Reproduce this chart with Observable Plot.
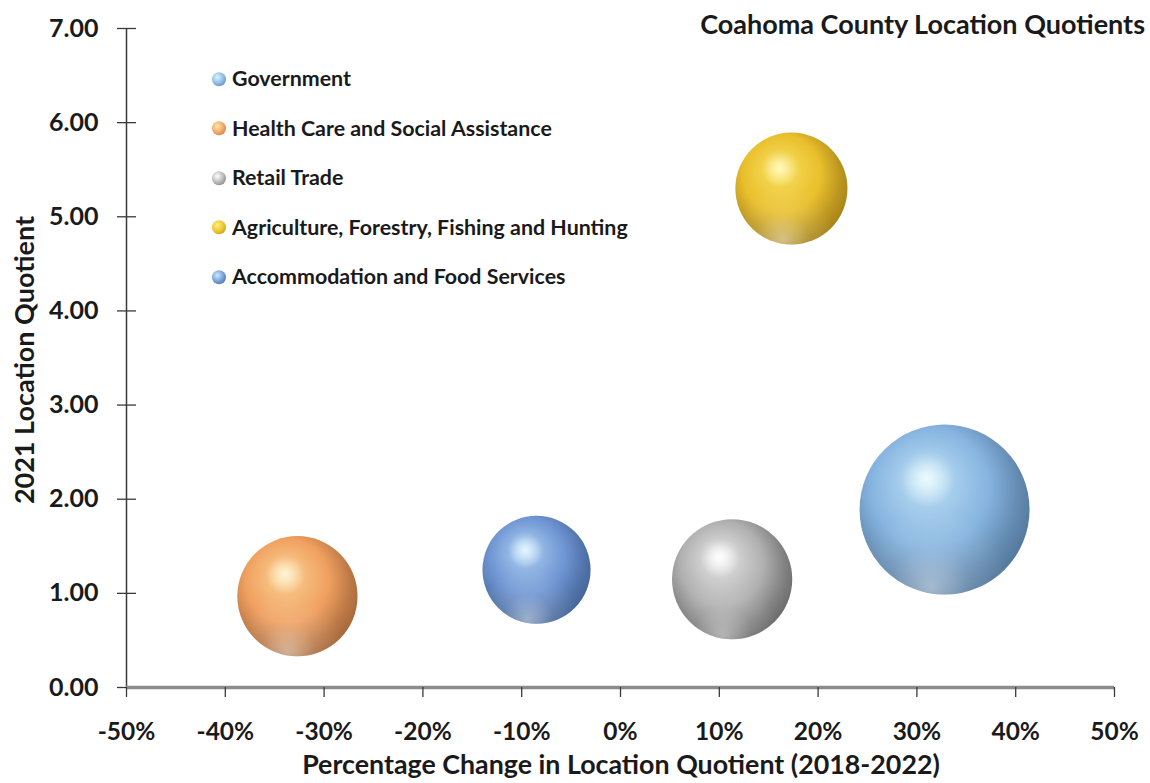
<!DOCTYPE html>
<html>
<head>
<meta charset="utf-8">
<script src="https://cdn.jsdelivr.net/npm/d3@7"></script>
<script src="https://cdn.jsdelivr.net/npm/@observablehq/plot@0.6"></script>
<style>
  html, body { margin: 0; padding: 0; background: #fff; }
  #wrap { position: relative; width: 1150px; height: 783px; font-family: Lato, "Open Sans", sans-serif; color: #1a1a1a; overflow: hidden; }
  #wrap svg { position: absolute; left: 0; top: 0; }
  .lbl { position: absolute; font-weight: bold; white-space: nowrap; line-height: 1; }
  .title { right: 5px; top: 10px; font-size: 27px; }
  .ylab { left: 23px; top: 360px; transform: translate(-50%, -50%) rotate(-90deg); font-size: 27px; }
  .xlab { left: 621px; top: 764px; transform: translate(-50%, -50%); font-size: 26.8px; }
  .legend { position: absolute; left: 0; top: 0; }
  .legend .item { position: absolute; left: 212px; display: flex; align-items: center; font-size: 21.4px; font-weight: bold; white-space: nowrap; line-height: 1; transform: translateY(-50%); }
  .legend .sw { width: 14px; height: 14px; border-radius: 50%; margin-right: 6px; flex: none; }
</style>
</head>
<body>
<div id="wrap"></div>
<script>
// ---- data ----
const categories = [
  "Government",
  "Health Care and Social Assistance",
  "Retail Trade",
  "Agriculture, Forestry, Fishing and Hunting",
  "Accommodation and Food Services"
];
const pctChange = [0.328, -0.327, 0.113, 0.173, -0.085];   // 2018-2022 change in LQ
const lq2021 = [1.89, 0.97, 1.15, 5.30, 1.25];              // 2021 location quotient
const bubbleSize = [2300, 1150, 1150, 1000, 930];           // relative bubble size
const xTicks = [-0.5, -0.4, -0.3, -0.2, -0.1, 0, 0.1, 0.2, 0.3, 0.4, 0.5];
const yTicks = [0, 1, 2, 3, 4, 5, 6, 7];
// sphere colours: [highlight, base, dark]
const palette = [
  ["#d8f6ff", "#86b4e0", "#557a9e"],
  ["#ffe9a8", "#f0a060", "#a86a3c"],
  ["#ffffff", "#b0b0b0", "#6e6e6e"],
  ["#fff27a", "#e9bf2c", "#a8861a"],
  ["#c8ecff", "#6f95d3", "#46679a"]
];

const data = categories.map((c, i) => ({i, category: c, x: pctChange[i], y: lq2021[i], size: bubbleSize[i]}));

const plot = Plot.plot({
  width: 1150,
  height: 783,
  marginLeft: 126,
  marginRight: 36,
  marginTop: 28,
  marginBottom: 96,
  x: {domain: [-0.5, 0.5]},
  y: {domain: [0, 7]},
  r: {domain: [0, 2300], range: [0, 85]},
  color: {type: "identity"},
  style: {fontFamily: "Lato, 'Open Sans', sans-serif", color: "#1a1a1a", background: "transparent"},
  marks: [
    Plot.ruleX([-0.5], {stroke: "#3a3a3a", strokeWidth: 1.5}),
    Plot.axisY({ticks: yTicks, tickSize: 19, dx: 10, tickPadding: 19, stroke: "#3a3a3a", strokeWidth: 1.3,
      tickFormat: d => d.toFixed(2), fontSize: 25, fontWeight: "bold", fill: "#1a1a1a", label: null}),
    Plot.ruleY([0], {stroke: "#8c8c8c", strokeWidth: 3.5}),
    Plot.axisX({ticks: xTicks, tickSize: 10, tickPadding: 25, stroke: "#3a3a3a", strokeWidth: 1.3,
      tickFormat: d => Math.round(d * 100) + "%", fontSize: 24.5, fontWeight: "bold", fill: "#1a1a1a", label: null}),
    Plot.dot(data, {x: "x", y: "y", r: "size", fill: d => `url(#sph${d.i})`, stroke: null}),
    Plot.dot(data, {x: "x", y: "y", r: "size", fill: () => "url(#refl)", stroke: null}),
    Plot.dot(data, {x: "x", y: "y", r: "size", fill: () => "url(#spec)", stroke: null})
  ]
});

// sphere gradients
const defs = d3.select(plot).insert("defs", ":first-child");
palette.forEach(([hi, base, dark], i) => {
  const g = defs.append("radialGradient").attr("id", `sph${i}`)
    .attr("cx", "0.43").attr("cy", "0.41").attr("r", "0.6").attr("fx", "0.39").attr("fy", "0.31");
  g.append("stop").attr("offset", "0").attr("stop-color", hi);
  g.append("stop").attr("offset", "0.25").attr("stop-color", d3.interpolateRgb(hi, base)(0.6));
  g.append("stop").attr("offset", "0.58").attr("stop-color", base);
  g.append("stop").attr("offset", "0.85").attr("stop-color", d3.interpolateRgb(base, dark)(0.7));
  g.append("stop").attr("offset", "1").attr("stop-color", dark);
});
const r = defs.append("radialGradient").attr("id", "refl")
  .attr("cx", "0.42").attr("cy", "0.96").attr("r", "0.48").attr("fx", "0.42").attr("fy", "0.96");
r.append("stop").attr("offset", "0").attr("stop-color", "#fff").attr("stop-opacity", 0.45);
r.append("stop").attr("offset", "0.5").attr("stop-color", "#fff").attr("stop-opacity", 0.12);
r.append("stop").attr("offset", "1").attr("stop-color", "#fff").attr("stop-opacity", 0);
const s = defs.append("radialGradient").attr("id", "spec")
  .attr("cx", "0.4").attr("cy", "0.32").attr("r", "0.17");
s.append("stop").attr("offset", "0").attr("stop-color", "#fff").attr("stop-opacity", 0.5);
s.append("stop").attr("offset", "1").attr("stop-color", "#fff").attr("stop-opacity", 0);

const wrap = document.getElementById("wrap");
wrap.appendChild(plot);

function addLabel(cls, text) {
  const el = document.createElement("div");
  el.className = "lbl " + cls;
  el.textContent = text;
  wrap.appendChild(el);
}
addLabel("title", "Coahoma County Location Quotients");
addLabel("ylab", "2021 Location Quotient");
addLabel("xlab", "Percentage Change in Location Quotient (2018-2022)");

const legend = document.createElement("div");
legend.className = "legend";
const rowY = [79, 128.5, 178, 227.5, 277];
categories.forEach((c, i) => {
  const [hi, base, dark] = palette[i];
  const item = document.createElement("div");
  item.className = "item";
  item.style.top = rowY[i] + "px";
  const sw = document.createElement("span");
  sw.className = "sw";
  sw.style.background = `radial-gradient(circle at 38% 35%, ${hi} 0%, ${base} 55%, ${dark} 100%)`;
  item.appendChild(sw);
  const t = document.createElement("span");
  t.textContent = c;
  item.appendChild(t);
  legend.appendChild(item);
});
wrap.appendChild(legend);
</script>
</body>
</html>
